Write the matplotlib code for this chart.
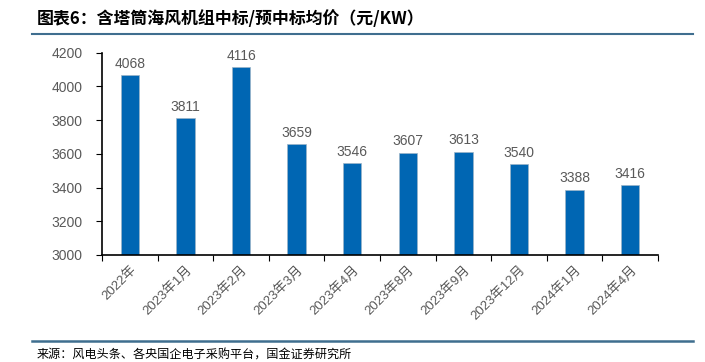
import matplotlib
matplotlib.use('Agg')
import matplotlib.pyplot as plt
from matplotlib.lines import Line2D

plt.rcParams['font.family'] = ['Liberation Sans', 'Noto Sans CJK SC', 'DejaVu Sans']

# data
categories = ['2022年', '2023年1月', '2023年2月', '2023年3月', '2023年4月',
              '2023年8月', '2023年9月', '2023年12月', '2024年1月', '2024年4月']
prices = [4068, 3811, 4116, 3659, 3546, 3607, 3613, 3540, 3388, 3416]
y_ticks = [3000, 3200, 3400, 3600, 3800, 4000, 4200]

bar_color = '#0066B3'
text_gray = '#595959'
rule_color = '#3F6E8F'

fig = plt.figure(figsize=(7.05, 3.62), dpi=100)
ax = fig.add_axes([0.1447, 0.2956, 0.7886, 0.5588])

x = range(len(categories))
bars = ax.bar(x, prices, width=0.33, color=bar_color, edgecolor='#9DB4C8', linewidth=0.5)
for xi, v in zip(x, prices):
    ax.text(xi, v + 25, str(v), ha='center', va='bottom', fontsize=10,
            color=text_gray, clip_on=False)

ax.set_ylim(3000, 4200)
ax.set_xlim(-0.5, len(categories) - 0.5)
ax.set_yticks(y_ticks)
ax.set_yticklabels([str(t) for t in y_ticks], fontsize=10, color=text_gray)
ax.tick_params(axis='y', length=4, width=0.8, direction='out', pad=10)

# category ticks sit between bars
ax.set_xticks([i - 0.5 for i in range(len(categories) + 1)], minor=False)
ax.set_xticklabels([''] * (len(categories) + 1))
ax.tick_params(axis='x', length=4, width=0.8, direction='out')
ax.set_xticks(list(x), minor=True)
ax.set_xticklabels(categories, minor=True, rotation=45, ha='right',
                   rotation_mode='anchor', fontsize=9.5, color=text_gray)
ax.tick_params(axis='x', which='minor', length=0, pad=6)

for s in ['top', 'right']:
    ax.spines[s].set_visible(False)
ax.spines['left'].set_linewidth(1.2)
ax.spines['bottom'].set_linewidth(1.2)

# header / footer
fig.text(0.052, 0.948, '图表6：含塔筒海风机组中标/预中标均价（元/KW）', fontsize=12.2,
         fontweight='bold', ha='left', va='center',
         family=['Noto Sans CJK SC', 'DejaVu Sans'])
fig.add_artist(Line2D([0.045, 0.983], [0.906, 0.906], color=rule_color, lw=1.5,
                      transform=fig.transFigure))
fig.add_artist(Line2D([0.045, 0.983], [0.058, 0.058], color=rule_color, lw=1.8,
                      transform=fig.transFigure))
fig.text(0.052, 0.02, '来源：风电头条、各央国企电子采购平台，国金证券研究所', fontsize=8.7,
         ha='left', va='center', family=['Noto Sans CJK SC', 'DejaVu Sans'])

fig.savefig('out.png', dpi=100)
